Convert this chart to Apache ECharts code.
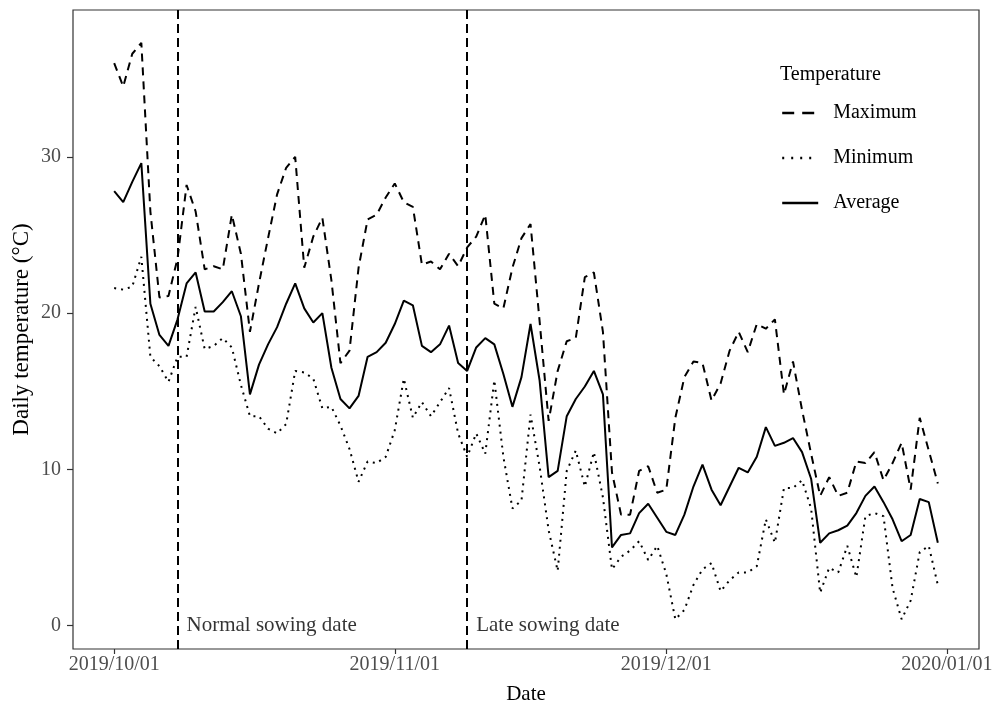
<!DOCTYPE html>
<html>
<head>
<meta charset="utf-8">
<script src="https://cdn.jsdelivr.net/npm/echarts@6/dist/echarts.min.js"></script>
<style>
  html, body { margin: 0; padding: 0; background: #ffffff; }
  #chart { width: 992px; height: 709px; }
</style>
</head>
<body>
<div id="chart"></div>
<script>
// Daily temperatures, 2019/10/01 .. 2019/12/31 (one value per day)
const maxTemp = [
  36.0, 34.5, 36.6, 37.3, 26.5, 21.0, 21.1, 23.5, 28.2, 26.5,
  22.8, 23.0, 22.8, 26.3, 23.8, 18.8, 21.9, 24.8, 27.6, 29.3,
  30.0, 22.9, 24.9, 26.1, 22.1, 16.8, 17.6, 22.9, 26.0, 26.3,
  27.4, 28.3, 27.1, 26.8, 23.1, 23.3, 22.8, 23.8, 23.0, 24.2,
  24.9, 26.3, 20.6, 20.3, 22.9, 24.8, 25.7, 19.5, 13.1, 16.3,
  18.2, 18.4, 22.3, 22.6, 18.8, 9.8, 7.1, 7.1, 9.9, 10.2,
  8.5, 8.7, 13.3, 15.9, 16.9, 16.8, 14.4, 15.5, 17.6, 18.8,
  17.5, 19.3, 19.0, 19.6, 14.8, 16.9, 13.8, 11.0, 8.3, 9.5,
  8.3, 8.5, 10.5, 10.4, 11.1, 9.3, 10.4, 11.7, 8.7, 13.3,
  11.2, 9.1
];
const minTemp = [
  21.6, 21.5, 21.7, 23.6, 17.2, 16.6, 15.6, 17.2, 17.2, 20.4,
  17.7, 17.9, 18.4, 17.8, 15.4, 13.4, 13.4, 12.6, 12.3, 12.9,
  16.3, 16.2, 15.8, 13.9, 14.0, 12.8, 11.3, 9.2, 10.5, 10.4,
  10.8, 12.5, 15.8, 13.3, 14.3, 13.4, 14.3, 15.2, 12.3, 10.8,
  12.3, 11.0, 15.7, 10.8, 7.5, 8.0, 13.5, 10.2, 6.1, 3.5,
  9.9, 11.2, 8.9, 11.1, 8.2, 3.6, 4.4, 4.8, 5.4, 4.2,
  5.1, 3.3, 0.4, 1.0, 2.6, 3.6, 4.0, 2.2, 2.9, 3.4,
  3.4, 3.8, 6.8, 5.3, 8.8, 8.8, 9.3, 7.5, 2.1, 3.7,
  3.4, 5.1, 3.1, 7.0, 7.2, 7.0, 2.4, 0.4, 1.6, 4.7,
  5.1, 2.6
];
const avgTemp = [
  27.8, 27.1, 28.4, 29.6, 20.6, 18.6, 17.9, 19.6, 21.9, 22.6,
  20.1, 20.1, 20.7, 21.4, 19.8, 14.8, 16.7, 18.0, 19.1, 20.6,
  21.9, 20.3, 19.4, 20.0, 16.5, 14.5, 13.9, 14.7, 17.2, 17.5,
  18.1, 19.3, 20.8, 20.5, 17.9, 17.5, 18.0, 19.2, 16.8, 16.3,
  17.8, 18.4, 18.0, 16.1, 14.0, 15.9, 19.3, 15.7, 9.5, 9.9,
  13.4, 14.5, 15.3, 16.3, 14.8, 5.0, 5.8, 5.9, 7.2, 7.8,
  6.9, 6.0, 5.8, 7.1, 8.9, 10.3, 8.7, 7.7, 8.9, 10.1,
  9.8, 10.8, 12.7, 11.5, 11.7, 12.0, 11.1, 9.4, 5.3, 5.9,
  6.1, 6.4, 7.2, 8.3, 8.9, 7.9, 6.8, 5.4, 5.8, 8.1,
  7.9, 5.3
];

// x positions are days since 2019/10/01
const dayIndex = maxTemp.map((_, i) => i);

// date axis ticks (days since 2019/10/01) and their labels
const xTickDays = [0, 31, 61, 92];
const xTickLabels = ['2019/10/01', '2019/11/01', '2019/12/01', '2020/01/01'];
const yTicks = [0, 10, 20, 30];

// sowing dates as day offsets
const sowingDays = [7, 39];
const sowingNames = ['Normal sowing date', 'Late sowing date'];

const seriesNames = ['Maximum', 'Minimum', 'Average'];

const FONT = "'Liberation Serif', 'Times New Roman', serif";

const pairs = arr => arr.map((v, i) => [dayIndex[i], v]);

// line patterns: plot lines and the slightly heavier legend keys
const plotDash = { Maximum: [8, 6], Minimum: [2, 5], Average: 'solid' };
const keyDash = { Maximum: [12, 8], Minimum: [2, 7], Average: 'solid' };

const chart = echarts.init(document.getElementById('chart'), null, { renderer: 'canvas' });

chart.setOption({
  animation: false,
  backgroundColor: '#ffffff',
  textStyle: { fontFamily: FONT },
  title: {
    text: 'Temperature',
    left: 775,
    top: 60,
    textStyle: { fontFamily: FONT, fontSize: 20, fontWeight: 'normal', color: '#000' }
  },
  legend: {
    data: seriesNames.map(n => ({
      name: n,
      lineStyle: { type: keyDash[n], width: 2.4, color: '#000' }
    })),
    orient: 'vertical',
    left: 776,
    top: 98,
    itemWidth: 36,
    itemHeight: 14,
    itemGap: 25,
    itemStyle: { opacity: 0 },
    textStyle: { fontFamily: FONT, fontSize: 20, color: '#000', padding: [0, 0, 0, 10] }
  },
  grid: {
    left: 73, right: 13, top: 10, bottom: 60,
    outerBoundsMode: 'none',
    containLabel: false,
    show: true,
    borderColor: '#333333',
    borderWidth: 1.2,
    backgroundColor: '#ffffff'
  },
  xAxis: {
    type: 'value',
    min: -4.55,
    max: 95.55,
    name: 'Date',
    nameLocation: 'middle',
    nameGap: 35,
    nameMoveOverlap: false,
    nameTextStyle: { fontFamily: FONT, fontSize: 21, color: '#000' },
    axisLine: { show: false, onZero: false },
    splitLine: { show: false },
    axisTick: {
      show: true,
      length: 5,
      customValues: xTickDays,
      lineStyle: { color: '#333333', width: 1.2 }
    },
    axisLabel: {
      customValues: xTickDays,
      margin: 6,
      fontFamily: FONT,
      fontSize: 20,
      color: '#4d4d4d',
      formatter: v => xTickLabels[xTickDays.indexOf(Math.round(v))] || ''
    }
  },
  yAxis: {
    type: 'value',
    min: -1.5,
    max: 39.4,
    name: 'Daily temperature (\u00B0C)',
    nameLocation: 'middle',
    nameGap: 40,
    nameMoveOverlap: false,
    nameRotate: 90,
    nameTextStyle: { fontFamily: FONT, fontSize: 23, color: '#000' },
    axisLine: { show: false, onZero: false },
    splitLine: { show: false },
    axisTick: {
      show: true,
      length: 6,
      customValues: yTicks,
      lineStyle: { color: '#333333', width: 1.2 }
    },
    axisLabel: {
      customValues: yTicks,
      margin: 12,
      fontFamily: FONT,
      fontSize: 20,
      color: '#4d4d4d'
    }
  },
  series: [
    {
      name: 'Maximum',
      type: 'line',
      data: pairs(maxTemp),
      symbol: 'none',
      lineStyle: { color: '#000', width: 2, type: plotDash.Maximum },
      itemStyle: { color: '#000' },
      markLine: {
        silent: true,
        symbol: 'none',
        label: { show: false },
        lineStyle: { color: '#000', width: 2, type: [9, 5] },
        data: sowingDays.map(d => ({ xAxis: d }))
      }
    },
    {
      name: 'Minimum',
      type: 'line',
      data: pairs(minTemp),
      symbol: 'none',
      lineStyle: { color: '#000', width: 2, type: plotDash.Minimum },
      itemStyle: { color: '#000' }
    },
    {
      name: 'Average',
      type: 'line',
      data: pairs(avgTemp),
      symbol: 'none',
      lineStyle: { color: '#000', width: 2, type: plotDash.Average },
      itemStyle: { color: '#000' }
    },
    {
      name: 'sowing',
      type: 'scatter',
      data: sowingDays.map((d, i) => ({ value: [d, 0], name: sowingNames[i] })),
      symbolSize: 0,
      silent: true,
      label: {
        show: true,
        position: 'right',
        distance: 9,
        formatter: p => p.name,
        fontFamily: FONT,
        fontSize: 21,
        color: '#000'
      }
    }
  ]
});
</script>
</body>
</html>
